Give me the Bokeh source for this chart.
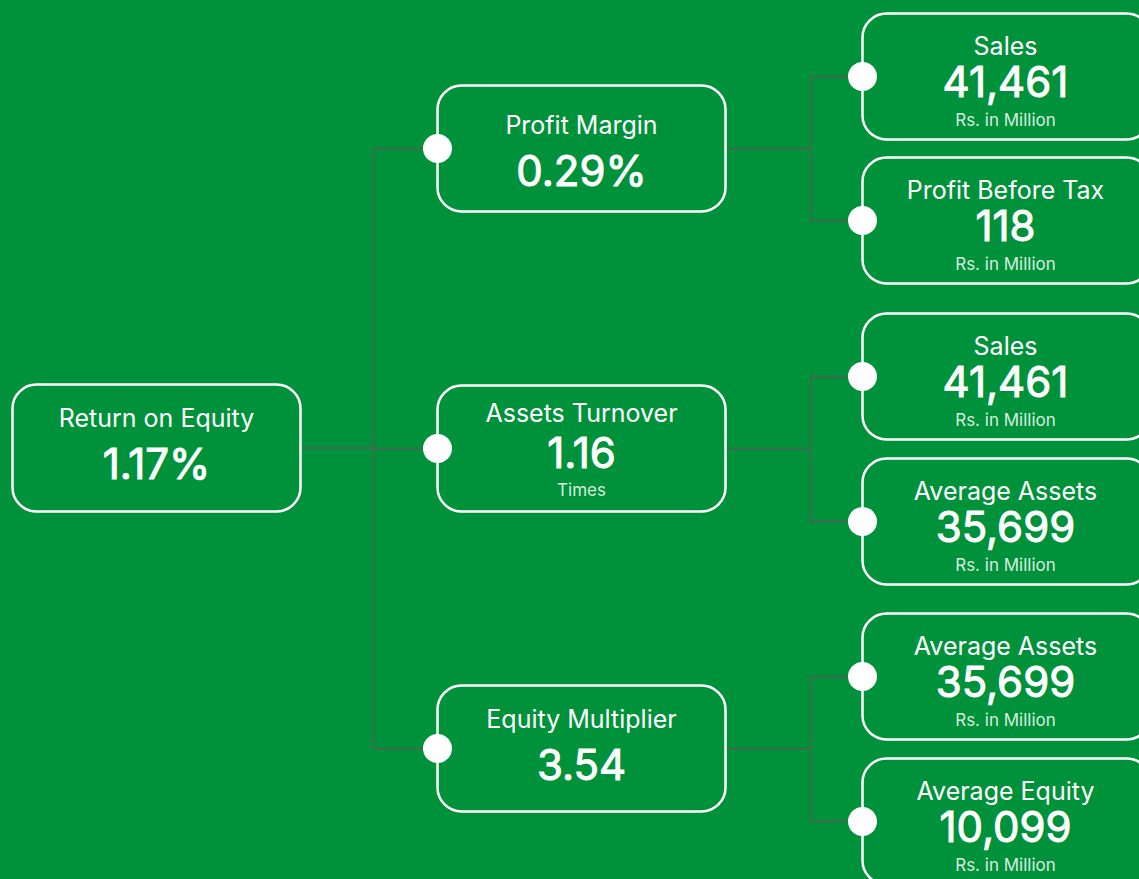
from bokeh.plotting import figure
from bokeh.models import Range1d, ColumnDataSource
from bokeh.core.properties import value
from bokeh.embed import file_html
from bokeh.resources import INLINE

# ---------------- data ----------------
root_label = "Return on Equity"
root_value = "1.17%"

mid_labels = ["Profit Margin", "Assets Turnover", "Equity Multiplier"]
mid_values = ["0.29%", "1.16", "3.54"]
mid_units = ["", "Times", ""]

leaf_labels = ["Sales", "Profit Before Tax", "Sales", "Average Assets",
               "Average Assets", "Average Equity"]
leaf_values = ["41,461", "118", "41,461", "35,699", "35,699", "10,099"]
leaf_units = ["Rs. in Million"] * 6
leaf_parent = [0, 0, 1, 1, 2, 2]

# ---------------- layout (pixels in the 1139x879 picture) ----------------
BG = "#00923A"
LINE = "#5a5a5a"
FONT = value("Inter")
W, H = 1139, 879

root_box = (12, 300, 384, 511)
mid_x = (437, 725)
mid_tops = [85, 385, 685]
mid_h = 126
leaf_x = (862, 1150)
leaf_tops = [13, 157, 313, 458, 613, 758]
leaf_h = 126
trunk_x = 373
branch_x = 810

p = figure(width=W, height=H,
           x_range=Range1d(0, W), y_range=Range1d(H, 0),
           output_backend="svg", toolbar_location=None, min_border=0,
           background_fill_color=BG, border_fill_color=BG,
           outline_line_color=None)
p.axis.visible = False
p.grid.visible = False

root_cy = (root_box[2] + root_box[3]) / 2
mid_cy = [t + mid_h / 2 for t in mid_tops]
leaf_cy = [t + leaf_h / 2 for t in leaf_tops]

# ---------------- connectors ----------------
x0, y0, x1, y1 = [], [], [], []
x0 += [root_box[1]]; y0 += [root_cy]; x1 += [trunk_x]; y1 += [root_cy]
x0 += [trunk_x]; y0 += [mid_cy[0]]; x1 += [trunk_x]; y1 += [mid_cy[-1]]
for cy in mid_cy:
    x0 += [trunk_x]; y0 += [cy]; x1 += [mid_x[0]]; y1 += [cy]
for i, cy in enumerate(mid_cy):
    kids = [leaf_cy[j] for j in range(len(leaf_cy)) if leaf_parent[j] == i]
    x0 += [mid_x[1]]; y0 += [cy]; x1 += [branch_x]; y1 += [cy]
    x0 += [branch_x]; y0 += [min(kids)]; x1 += [branch_x]; y1 += [max(kids)]
    for ky in kids:
        x0 += [branch_x]; y0 += [ky]; x1 += [leaf_x[0]]; y1 += [ky]
p.segment(x0=x0, y0=y0, x1=x1, y1=y1, line_color=LINE, line_width=1.3)

# ---------------- boxes ----------------
lefts = [root_box[0]] + [mid_x[0]] * 3 + [leaf_x[0]] * 6
rights = [root_box[1]] + [mid_x[1]] * 3 + [leaf_x[1]] * 6
tops = [root_box[2]] + mid_tops + leaf_tops
bottoms = [root_box[3]] + [t + mid_h for t in mid_tops] + [t + leaf_h for t in leaf_tops]
p.quad(left=lefts, right=rights, top=tops, bottom=bottoms,
       fill_color=BG, line_color="white", line_width=2.5, border_radius=24)

# ---------------- circles ----------------
cx = [mid_x[0]] * 3 + [leaf_x[0]] * 6
cy = mid_cy + leaf_cy
p.scatter(x=cx, y=cy, size=29, fill_color="white", line_color=None)

# ---------------- texts ----------------
def make():
    return dict(x=[], y=[], text=[], size=[], alpha=[])

small = make()
big = make()

def add(d, x, y, t, size, alpha=1.0):
    d["x"].append(x); d["y"].append(y); d["text"].append(t)
    d["size"].append(size); d["alpha"].append(alpha)

rcx = (root_box[0] + root_box[1]) / 2
add(small, rcx, root_box[2] + 33, root_label, "25px")
add(big, rcx, root_box[2] + 79, root_value, "42px")

mcx = (mid_x[0] + mid_x[1]) / 2
mid_offsets = [(39, 85), (27, 67), (33, 79)]
for i in range(3):
    a, b = mid_offsets[i]
    add(small, mcx, mid_tops[i] + a, mid_labels[i], "25px")
    add(big, mcx, mid_tops[i] + b, mid_values[i], "42px")
    if mid_units[i]:
        add(small, mcx, mid_tops[i] + 104, mid_units[i], "17px", 0.85)

lcx = 1005
for i in range(6):
    add(small, lcx, leaf_tops[i] + 32, leaf_labels[i], "25px")
    add(big, lcx, leaf_tops[i] + 68, leaf_values[i], "42px")
    add(small, lcx, leaf_tops[i] + 106, leaf_units[i], "17px", 0.85)

p.text(x="x", y="y", text="text", source=ColumnDataSource(small), text_font=FONT,
       text_font_size="size", text_alpha="alpha",
       text_color="white", text_align="center", text_baseline="middle")
p.text(x="x", y="y", text="text", source=ColumnDataSource(big), text_font=FONT,
       text_font_size="size", text_alpha="alpha",
       text_color="white", text_align="center", text_baseline="middle",
       text_outline_color="white")

html = file_html(p, INLINE)
html = html.replace("</head>", "<style>body{background:%s;}</style></head>" % BG, 1)
open("out.html", "w").write(html)
